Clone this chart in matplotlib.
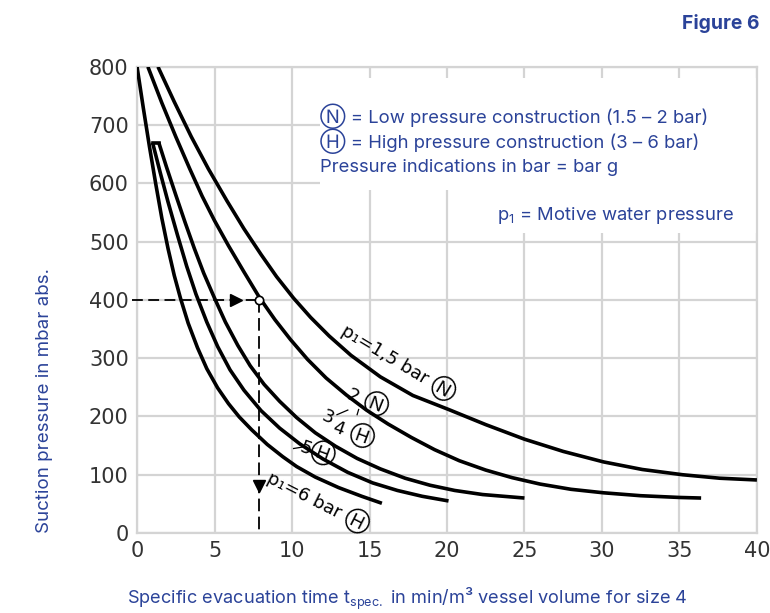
import numpy as np
import matplotlib.pyplot as plt
from matplotlib.patches import Rectangle

# Evacuation curves: specific time (min/m3) vs suction pressure (mbar abs.)
t_15N = [1.35, 2.4, 3.5, 4.6, 5.8, 6.9, 8.0, 9.0, 10.1, 11.2, 12.4, 13.8, 15.7, 17.8,
         20.1, 22.5, 25.0, 27.5, 30.1, 32.6, 35.2, 37.6, 40.0]
p_15N = [800, 740, 680, 625, 570, 522, 478, 440, 403, 370, 338, 305, 268, 236,
         212, 186, 161, 140, 122, 109, 100, 94, 91]

t_2N = [0.7, 1.6, 2.5, 3.4, 4.2, 5.0, 5.9, 6.9, 7.9, 8.9, 9.9, 11.0, 12.2, 13.5,
        14.8, 16.2, 17.7, 19.2, 20.8, 22.5, 24.2, 26.0, 28.0, 30.1, 32.5, 35.0, 36.4]
p_2N = [800, 738, 680, 625, 578, 536, 493, 448, 404, 366, 332, 298, 266, 237,
        211, 187, 164, 143, 124, 108, 95, 84, 75, 69, 64, 61, 60]

t_34H = [1.4, 1.9, 2.5, 3.1, 3.7, 4.3, 5.0, 5.7, 6.5, 7.3, 8.2, 9.2, 10.3, 11.5,
         12.8, 14.2, 15.7, 17.3, 18.9, 20.5, 22.3, 25.0]
p_34H = [670, 628, 580, 533, 488, 446, 403, 362, 322, 287, 255, 226, 198, 172,
         149, 128, 110, 94, 82, 73, 66, 60]

t_5H = [1.0, 1.5, 2.0, 2.6, 3.2, 3.8, 4.5, 5.2, 6.0, 6.9, 8.0, 9.2, 10.5, 12.0,
        13.6, 15.2, 16.8, 18.4, 20.1]
p_5H = [670, 618, 568, 512, 458, 410, 362, 320, 280, 245, 210, 180, 153, 127,
        104, 86, 73, 63, 55]

t_6H = [0.0, 0.4, 0.8, 1.2, 1.6, 2.0, 2.4, 2.8, 3.3, 3.9, 4.5, 5.2, 5.9, 6.6,
        7.4, 8.4, 9.4, 10.3, 11.5, 13.0, 14.5, 15.8]
p_6H = [800, 730, 663, 600, 540, 488, 442, 403, 360, 318, 282, 249, 222, 199,
        177, 152, 131, 114, 96, 78, 63, 51]

# worked example: 400 mbar read across to the 2 bar curve
ex_p = 400
ex_t = 7.9

blue = '#2b4399'
grid_grey = '#d4d4d4'

fig = plt.figure(figsize=(7.7, 6.13), dpi=100)
ax = fig.add_axes([0.178, 0.1305, 0.805, 0.7605])

ax.set_xlim(0, 40)
ax.set_ylim(0, 800)
ax.set_xticks(np.arange(0, 41, 5))
ax.set_yticks(np.arange(0, 801, 100))
ax.grid(True, color=grid_grey, lw=1.6)
ax.set_axisbelow(True)
for s in ax.spines.values():
    s.set_color(grid_grey)
    s.set_linewidth(1.6)
ax.tick_params(length=0, pad=6, labelcolor='#333333')
for lab in ax.get_xticklabels() + ax.get_yticklabels():
    lab.set_family(['Liberation Sans Narrow', 'DejaVu Sans'])
    lab.set_fontsize(15)

# white patches behind the notes
ax.add_patch(Rectangle((11.8, 588), 28.2, 192, facecolor='white', edgecolor='none', zorder=1.5))
ax.add_patch(Rectangle((20.5, 515), 19.5, 80, facecolor='white', edgecolor='none', zorder=1.5))

lw = 2.6
for t, p in [(t_15N, p_15N), (t_2N, p_2N), (t_34H, p_34H), (t_5H, p_5H), (t_6H, p_6H)]:
    ax.plot(t, p, color='black', lw=lw, solid_capstyle='butt', solid_joinstyle='round', zorder=3)
# flat cap joining the tops of the two high-pressure curves
ax.plot([t_5H[0], t_34H[0]], [p_5H[0], p_34H[0]], color='black', lw=lw, zorder=3)

# example reading lines
ax.plot([-0.3, ex_t], [ex_p, ex_p], color='black', lw=1.3, ls=(0, (6, 3)), zorder=3, clip_on=False)
ax.plot([ex_t, ex_t], [ex_p, 0], color='black', lw=1.3, ls=(0, (7, 3)), zorder=3)
ax.plot([6.4], [ex_p], marker='>', color='black', ms=9, zorder=4)
ax.plot([ex_t], [80], marker='v', color='black', ms=9, zorder=4)
ax.plot([ex_t], [ex_p], marker='o', mfc='white', mec='black', ms=6, mew=1.2, zorder=5)

# curve labels
lbl = dict(color='black', fontsize=13, family=['DejaVu Sans', 'Inter'], ha='center', va='center',
           rotation_mode='anchor', zorder=4)
ax.text(16.9, 294, 'p\u2081=1,5 bar \u24c3', rotation=-31, **lbl)
ax.text(14.9, 228, '2 \u24c3', rotation=-22, **lbl)
ax.plot([14.3, 14.2], [212, 203], color='black', lw=0.9, zorder=4)
ax.text(12.3, 198, '3', rotation=-22, **lbl)
ax.plot([12.9, 13.6], [203, 211], color='black', lw=0.9, zorder=4)
ax.text(14.0, 172, '4 \u24bd', rotation=-20, **lbl)
ax.text(11.7, 140, '5\u24bd', rotation=-20, **lbl)
ax.plot([10.1, 10.8], [145, 148], color='black', lw=0.9, zorder=4)
ax.text(11.7, 55, 'p\u2081=6 bar \u24bd', rotation=-27, **lbl)

# notes
note = dict(color=blue, fontsize=13.3, family=['Inter', 'DejaVu Sans'], va='center', zorder=5)
ax.text(11.8, 716, '\u24c3 = Low pressure construction (1.5 \u2013 2 bar)', **note)
ax.text(11.8, 673, '\u24bd = High pressure construction (3 \u2013 6 bar)', **note)
ax.text(11.8, 627, 'Pressure indications in bar = bar g', **note)
ax.text(23.2, 544, 'p$_{\\mathregular{1}}$ = Motive water pressure', **note)

ax.set_ylabel('Suction pressure in mbar abs.', color=blue, fontsize=13.5,
              family=['Inter', 'DejaVu Sans'])
ax.yaxis.set_label_coords(-0.135, 0.285)
ax.set_xlabel('Specific evacuation time t$_{\\mathregular{spec.}}$ in min/m\u00b3 vessel volume for size 4',
              color=blue, fontsize=13.1, family=['Inter', 'DejaVu Sans'])
ax.xaxis.set_label_coords(0.436, -0.114)

fig.text(0.987, 0.962, 'Figure 6', color=blue, fontsize=13.9, fontweight='bold',
         family=['Inter', 'DejaVu Sans'], ha='right', va='center')

fig.savefig('out.png', dpi=100)
